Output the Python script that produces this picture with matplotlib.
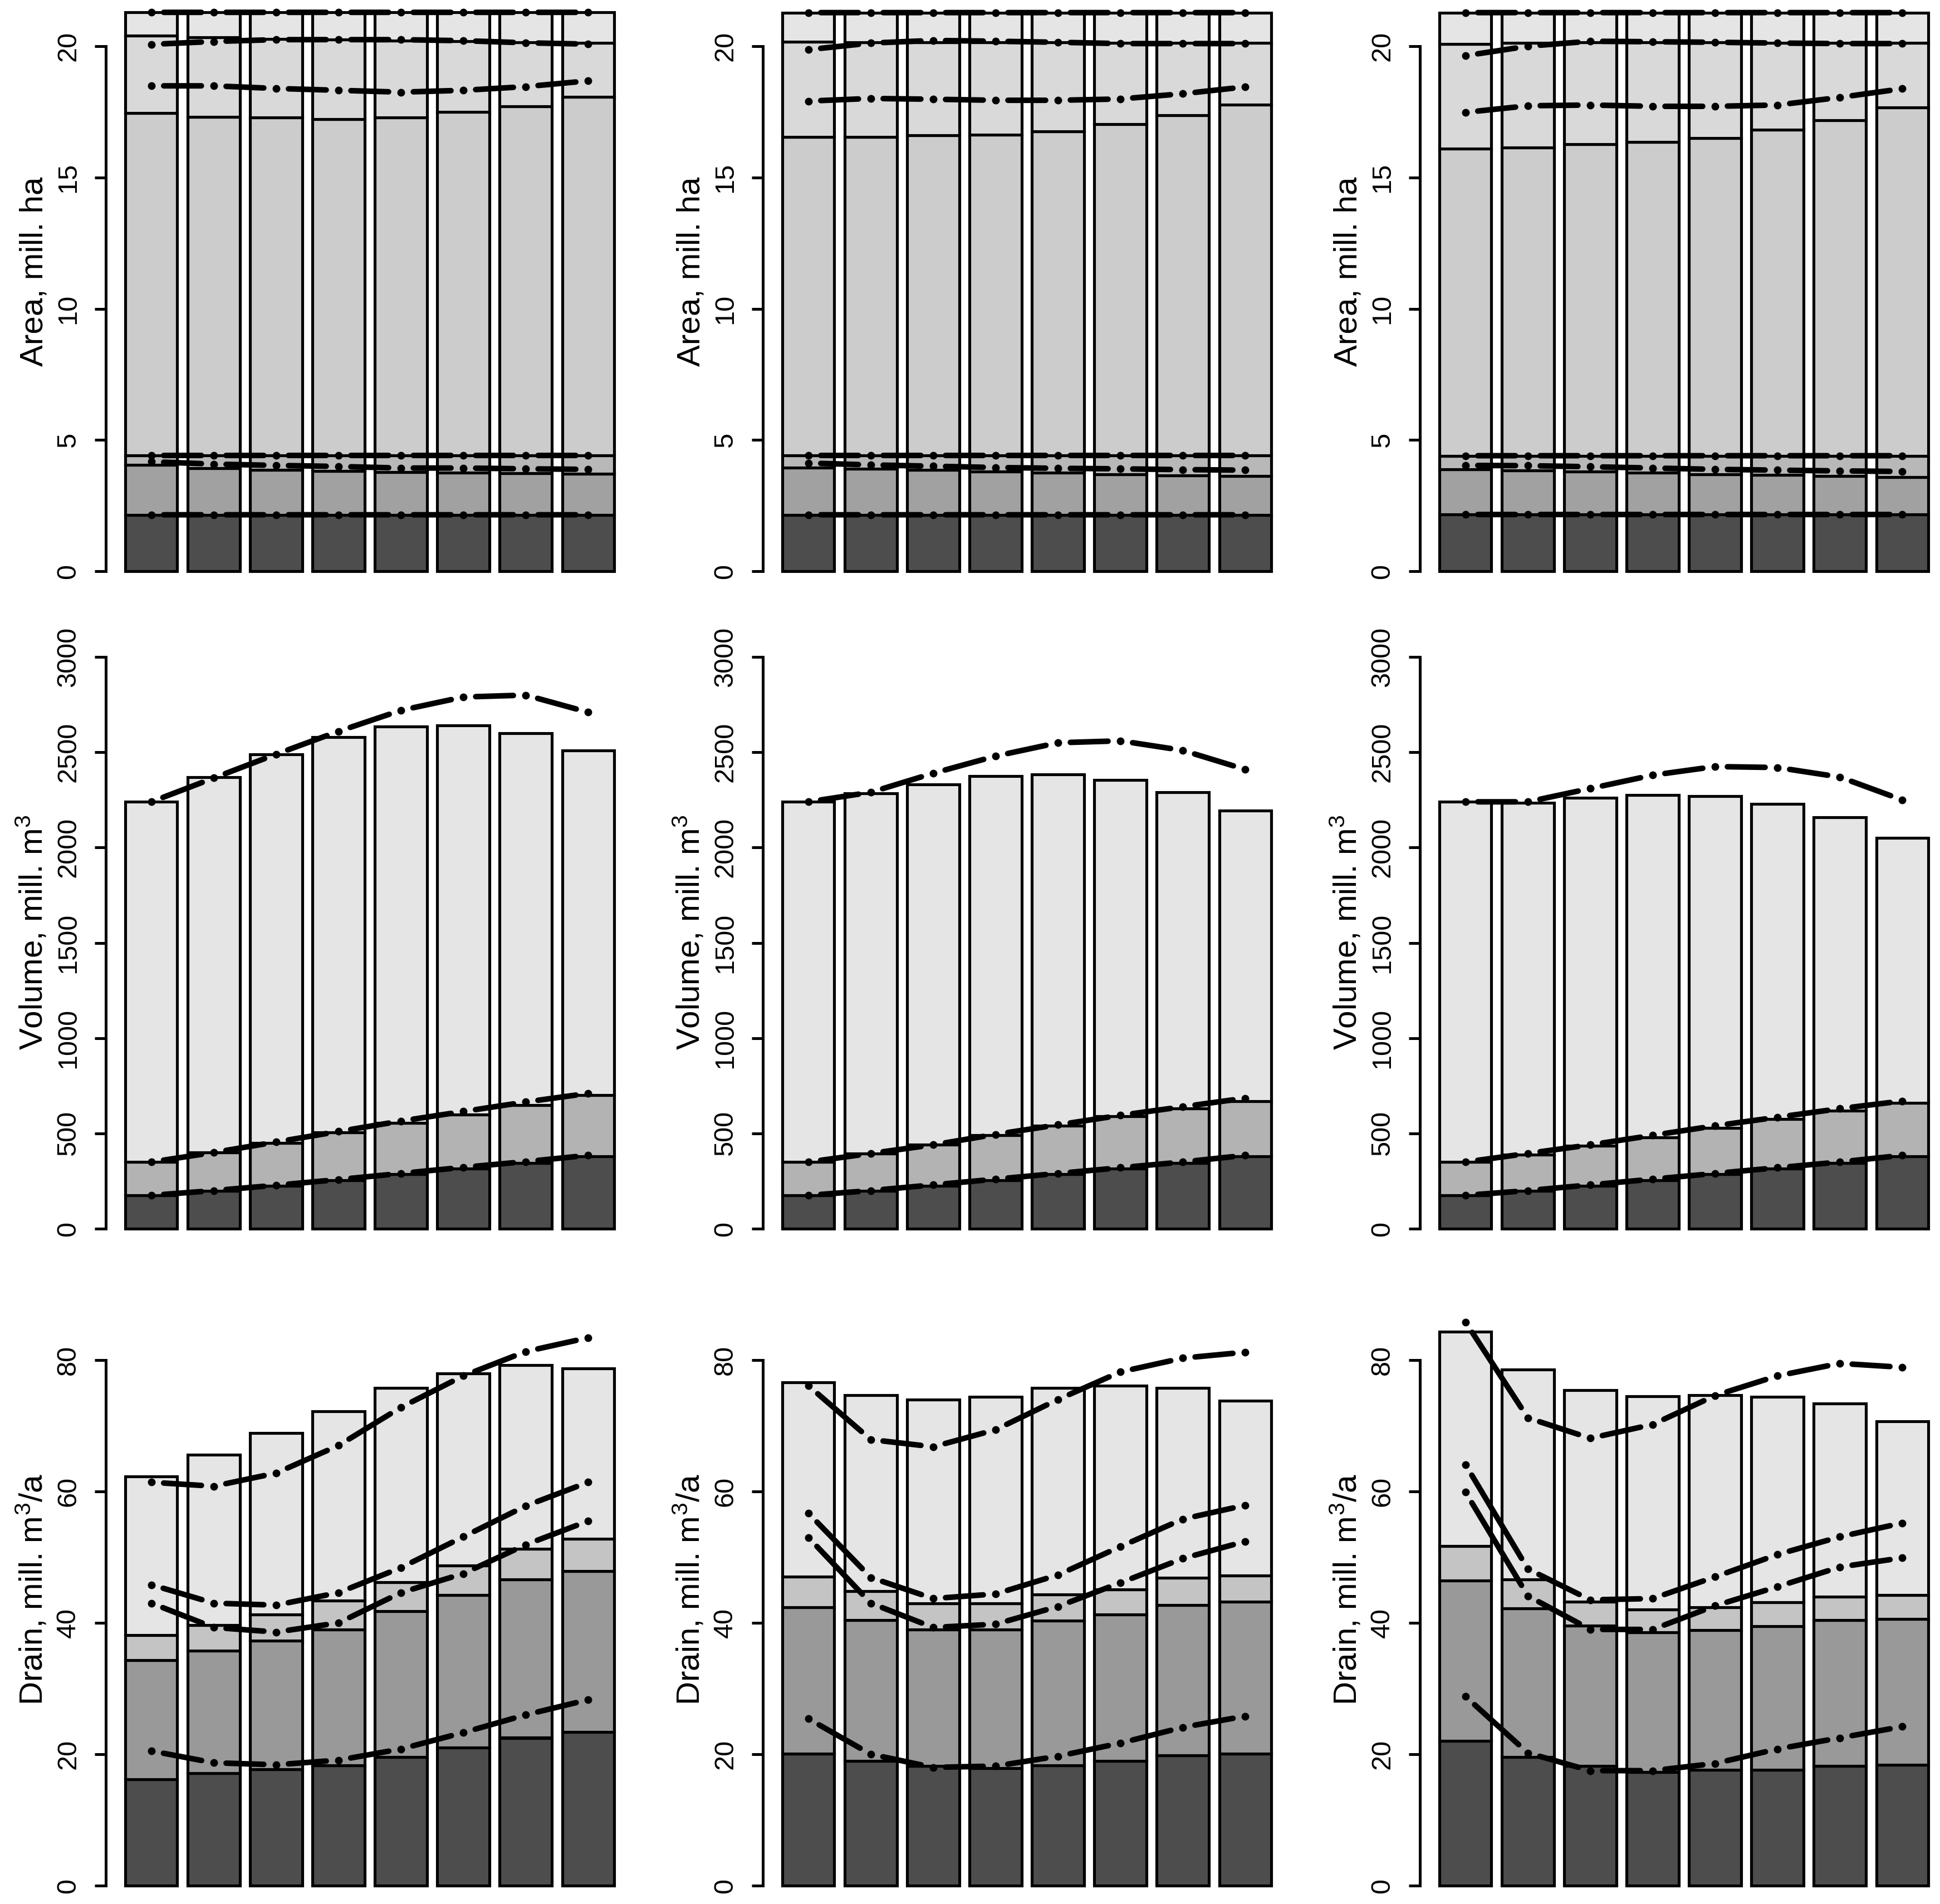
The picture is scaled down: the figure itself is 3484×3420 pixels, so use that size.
import numpy as np
import matplotlib
matplotlib.use("Agg")
import matplotlib.pyplot as plt
from matplotlib.patches import FancyArrowPatch

plt.rcParams['font.family'] = ['Liberation Sans', 'DejaVu Sans']
plt.rcParams['mathtext.fontset'] = 'custom'
plt.rcParams['mathtext.rm'] = 'Liberation Sans'
plt.rcParams['mathtext.default'] = 'regular'

W, H = 3484, 3420

# ---- area, mill. ha (stacked boundaries, bottom to top) ----
area1_b1 = [2.15, 2.15, 2.15, 2.15, 2.15, 2.15, 2.15, 2.15]
area1_b2 = [4.05, 3.92, 3.87, 3.81, 3.77, 3.76, 3.73, 3.72]
area1_b3 = [4.41, 4.41, 4.41, 4.41, 4.41, 4.41, 4.41, 4.41]
area1_b4 = [17.46, 17.31, 17.29, 17.22, 17.29, 17.50, 17.72, 18.06]
area1_b5 = [20.40, 20.33, 20.28, 20.25, 20.22, 20.20, 20.15, 20.12]
area1_b6 = [21.29, 21.29, 21.29, 21.29, 21.29, 21.29, 21.29, 21.29]
area1_l1 = [21.29, 21.29, 21.29, 21.29, 21.29, 21.29, 21.29, 21.29]
area1_l2 = [20.07, 20.18, 20.25, 20.25, 20.25, 20.21, 20.13, 20.08]
area1_l3 = [18.49, 18.49, 18.39, 18.32, 18.25, 18.32, 18.46, 18.68]
area1_l4 = [4.41, 4.41, 4.41, 4.41, 4.41, 4.41, 4.41, 4.41]
area1_l5 = [4.17, 4.08, 4.03, 3.99, 3.93, 3.93, 3.90, 3.88]
area1_l6 = [2.15, 2.15, 2.15, 2.15, 2.15, 2.15, 2.15, 2.15]

area2_b1 = [2.15, 2.15, 2.15, 2.15, 2.15, 2.15, 2.15, 2.15]
area2_b2 = [3.95, 3.90, 3.85, 3.80, 3.75, 3.70, 3.65, 3.62]
area2_b3 = [4.41, 4.41, 4.41, 4.41, 4.41, 4.41, 4.41, 4.41]
area2_b4 = [16.55, 16.55, 16.60, 16.63, 16.76, 17.03, 17.36, 17.78]
area2_b5 = [20.17, 20.15, 20.15, 20.15, 20.15, 20.13, 20.12, 20.12]
area2_b6 = [21.28, 21.28, 21.28, 21.28, 21.28, 21.28, 21.28, 21.28]
area2_l1 = [21.28, 21.28, 21.28, 21.28, 21.28, 21.28, 21.28, 21.28]
area2_l2 = [19.87, 20.12, 20.22, 20.19, 20.15, 20.10, 20.10, 20.10]
area2_l3 = [17.91, 18.01, 17.98, 17.94, 17.94, 17.99, 18.19, 18.45]
area2_l4 = [4.41, 4.41, 4.41, 4.41, 4.41, 4.41, 4.41, 4.41]
area2_l5 = [4.12, 4.05, 4.00, 3.95, 3.92, 3.90, 3.87, 3.85]
area2_l6 = [2.15, 2.15, 2.15, 2.15, 2.15, 2.15, 2.15, 2.15]

area3_b1 = [2.16, 2.16, 2.16, 2.16, 2.16, 2.16, 2.16, 2.16]
area3_b2 = [3.89, 3.84, 3.80, 3.75, 3.70, 3.66, 3.62, 3.58]
area3_b3 = [4.40, 4.40, 4.40, 4.40, 4.40, 4.40, 4.40, 4.40]
area3_b4 = [16.09, 16.14, 16.26, 16.35, 16.51, 16.81, 17.18, 17.66]
area3_b5 = [20.08, 20.13, 20.15, 20.15, 20.15, 20.13, 20.12, 20.12]
area3_b6 = [21.28, 21.28, 21.28, 21.28, 21.28, 21.28, 21.28, 21.28]
area3_l1 = [21.28, 21.28, 21.28, 21.28, 21.28, 21.28, 21.28, 21.28]
area3_l2 = [19.64, 20.00, 20.19, 20.17, 20.15, 20.12, 20.10, 20.10]
area3_l3 = [17.48, 17.73, 17.76, 17.71, 17.71, 17.76, 18.05, 18.38]
area3_l4 = [4.40, 4.40, 4.40, 4.40, 4.40, 4.40, 4.40, 4.40]
area3_l5 = [4.03, 4.02, 3.98, 3.93, 3.88, 3.85, 3.82, 3.80]
area3_l6 = [2.16, 2.16, 2.16, 2.16, 2.16, 2.16, 2.16, 2.16]

# ---- volume, mill. m3 ----
vol1_b1 = [175, 200, 225, 255, 285, 315, 345, 380]
vol1_b2 = [350, 400, 450, 505, 555, 600, 650, 700]
vol1_b3 = [2240, 2370, 2490, 2580, 2635, 2640, 2600, 2510]
vol1_l1 = [2240, 2365, 2490, 2610, 2720, 2790, 2800, 2710]
vol1_l2 = [350, 400, 455, 510, 565, 615, 665, 710]
vol1_l3 = [175, 200, 228, 258, 290, 322, 352, 385]

vol2_b1 = [175, 200, 225, 255, 285, 315, 345, 380]
vol2_b2 = [350, 395, 440, 490, 540, 590, 630, 670]
vol2_b3 = [2240, 2285, 2330, 2375, 2385, 2355, 2290, 2195]
vol2_l1 = [2240, 2290, 2390, 2480, 2550, 2560, 2510, 2410]
vol2_l2 = [350, 395, 440, 495, 545, 595, 640, 685]
vol2_l3 = [175, 200, 230, 260, 290, 320, 350, 385]

vol3_b1 = [175, 200, 225, 255, 285, 315, 345, 380]
vol3_b2 = [350, 390, 435, 480, 530, 575, 620, 660]
vol3_b3 = [2240, 2235, 2260, 2275, 2270, 2230, 2160, 2050]
vol3_l1 = [2240, 2240, 2310, 2380, 2425, 2420, 2370, 2250]
vol3_l2 = [350, 395, 440, 490, 540, 585, 630, 670]
vol3_l3 = [175, 200, 230, 260, 290, 320, 350, 385]

# ---- drain, mill. m3/a ----
drain1_b1 = [16.2, 17.1, 17.7, 18.3, 19.6, 21.0, 22.5, 23.4]
drain1_b2 = [34.3, 35.8, 37.3, 39.0, 41.8, 44.2, 46.6, 47.9]
drain1_b3 = [38.1, 39.7, 41.3, 43.4, 46.2, 48.7, 51.3, 52.8]
drain1_b4 = [62.3, 65.6, 68.9, 72.2, 75.8, 78.0, 79.2, 78.7]
drain1_l1 = [61.4, 60.8, 62.8, 67.0, 72.8, 77.6, 81.3, 83.4]
drain1_l2 = [45.8, 43.0, 42.7, 44.6, 48.4, 53.1, 57.8, 61.4]
drain1_l3 = [43.0, 39.3, 38.6, 40.0, 44.6, 47.5, 51.9, 55.5]
drain1_l4 = [20.5, 18.7, 18.4, 19.1, 20.8, 23.3, 26.0, 28.3]

drain2_b1 = [20.1, 19.0, 18.2, 17.9, 18.3, 19.0, 19.8, 20.1]
drain2_b2 = [42.4, 40.4, 39.0, 39.0, 40.3, 41.3, 42.7, 43.2]
drain2_b3 = [47.0, 44.8, 43.0, 43.0, 44.3, 45.1, 46.9, 47.2]
drain2_b4 = [76.6, 74.7, 74.0, 74.4, 75.8, 76.1, 75.8, 73.8]
drain2_l1 = [76.1, 67.9, 66.8, 69.4, 74.0, 78.2, 80.3, 81.2]
drain2_l2 = [56.7, 46.9, 43.7, 44.4, 47.3, 51.6, 55.8, 57.9]
drain2_l3 = [53.0, 43.0, 39.3, 39.8, 42.5, 46.1, 49.8, 52.4]
drain2_l4 = [25.4, 20.0, 18.0, 18.2, 19.7, 21.7, 24.1, 25.8]

drain3_b1 = [22.0, 19.6, 18.2, 17.3, 17.6, 17.6, 18.2, 18.4]
drain3_b2 = [46.4, 42.2, 39.6, 38.6, 38.9, 39.5, 40.4, 40.6]
drain3_b3 = [51.7, 46.6, 43.2, 42.0, 42.4, 43.1, 44.0, 44.2]
drain3_b4 = [84.3, 78.6, 75.4, 74.5, 74.7, 74.4, 73.4, 70.7]
drain3_l1 = [85.8, 71.2, 68.1, 70.2, 74.6, 77.6, 79.5, 78.9]
drain3_l2 = [64.1, 48.2, 43.5, 43.7, 47.0, 50.4, 53.1, 55.2]
drain3_l3 = [59.9, 44.1, 39.0, 39.0, 42.6, 45.5, 48.5, 49.9]
drain3_l4 = [28.8, 20.2, 17.5, 17.5, 18.6, 20.8, 22.5, 24.2]

area_cols = ['#4d4d4d', '#a1a1a1', '#b8b8b8', '#cccccc', '#d9d9d9', '#e5e5e5']
vol_cols = ['#4d4d4d', '#b3b3b3', '#e5e5e5']
drain_cols = ['#4d4d4d', '#999999', '#c4c4c4', '#e5e5e5']

area_ticks = [0, 5, 10, 15, 20]
vol_ticks = [0, 500, 1000, 1500, 2000, 2500, 3000]
drain_ticks = [0, 20, 40, 60, 80]

rows = [
    dict(label='Area, mill. ha', ticks=area_ticks, cols=area_cols,
         zero=1026, k=47.15, ylim=(-0.87, 22.65), lab_y=488,
         panels=[([area1_b1, area1_b2, area1_b3, area1_b4, area1_b5, area1_b6],
                  [area1_l1, area1_l2, area1_l3, area1_l4, area1_l5, area1_l6]),
                 ([area2_b1, area2_b2, area2_b3, area2_b4, area2_b5, area2_b6],
                  [area2_l1, area2_l2, area2_l3, area2_l4, area2_l5, area2_l6]),
                 ([area3_b1, area3_b2, area3_b3, area3_b4, area3_b5, area3_b6],
                  [area3_l1, area3_l2, area3_l3, area3_l4, area3_l5, area3_l6])]),
    dict(label='Volume, mill. m$^3$', ticks=vol_ticks, cols=vol_cols,
         zero=2207, k=0.3423, ylim=(-120, 3120), lab_y=1675,
         panels=[([vol1_b1, vol1_b2, vol1_b3], [vol1_l1, vol1_l2, vol1_l3]),
                 ([vol2_b1, vol2_b2, vol2_b3], [vol2_l1, vol2_l2, vol2_l3]),
                 ([vol3_b1, vol3_b2, vol3_b3], [vol3_l1, vol3_l2, vol3_l3])]),
    dict(label='Drain, mill. m$^3$/a', ticks=drain_ticks, cols=drain_cols,
         zero=3387, k=11.8, ylim=(-3.49, 90.7), lab_y=2855,
         panels=[([drain1_b1, drain1_b2, drain1_b3, drain1_b4],
                  [drain1_l1, drain1_l2, drain1_l3, drain1_l4]),
                 ([drain2_b1, drain2_b2, drain2_b3, drain2_b4],
                  [drain2_l1, drain2_l2, drain2_l3, drain2_l4]),
                 ([drain3_b1, drain3_b2, drain3_b3, drain3_b4],
                  [drain3_l1, drain3_l2, drain3_l3, drain3_l4])]),
]

x = 0.7 + 1.2 * np.arange(8)

fig = plt.figure(figsize=(W / 100, H / 100), dpi=100)

for row in rows:
    lo, hi = row['ylim']
    bot_px = row['zero'] - lo * row['k']
    top_px = row['zero'] - hi * row['k']
    for c, (bounds, lines) in enumerate(row['panels']):
        left_px = 190 + 1180 * c
        ax = fig.add_axes([left_px / W, 1 - bot_px / H, 948 / W, (bot_px - top_px) / H])
        ax.set_xlim(-0.176, 9.976)
        ax.set_ylim(lo, hi)
        ax.patch.set_visible(False)

        prev = np.zeros(8)
        for b, col in zip(bounds, row['cols']):
            b = np.array(b)
            ax.bar(x, b - prev, bottom=prev, width=1.0, color=col,
                   edgecolor='black', linewidth=3.7, zorder=2)
            prev = b

        for ln in lines:
            ax.plot(x, ln, 'o', color='black', ms=9, zorder=5, clip_on=False)
            for i in range(7):
                seg = FancyArrowPatch((x[i], ln[i]), (x[i + 1], ln[i + 1]),
                                      arrowstyle='-', shrinkA=16, shrinkB=16,
                                      lw=7.2, color='black', capstyle='round',
                                      zorder=4, clip_on=False)
                ax.add_patch(seg)

        for s in ['top', 'right', 'bottom']:
            ax.spines[s].set_visible(False)
        ax.spines['left'].set_linewidth(3.6)
        ax.spines['left'].set_bounds(row['ticks'][0], row['ticks'][-1])
        ax.set_xticks([])
        ax.set_yticks(row['ticks'])
        ax.tick_params(axis='y', direction='out', length=14.4, width=3.6,
                       pad=18, labelsize=35, labelrotation=90)
        for t in ax.get_yticklabels():
            t.set_va('center')

        fig.text((76 + 1180 * c) / W, 1 - row['lab_y'] / H, row['label'],
                 rotation=90, rotation_mode='anchor', ha='center', va='baseline',
                 fontsize=42)

fig.savefig('out.png', dpi=100)
